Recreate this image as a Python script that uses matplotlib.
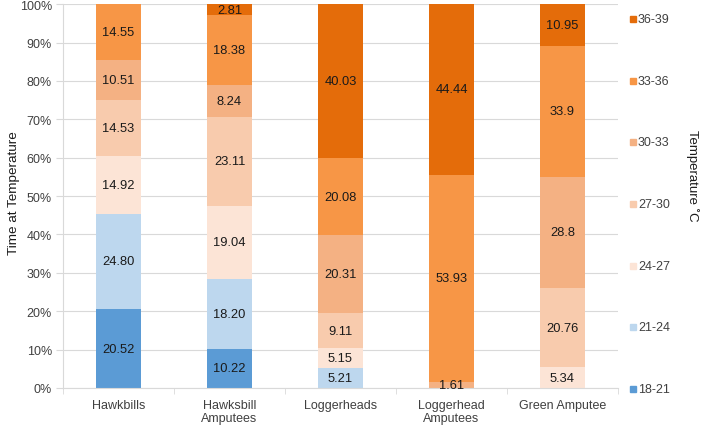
import matplotlib
matplotlib.use("Agg")
import matplotlib.pyplot as plt
from matplotlib.patches import Rectangle
import numpy as np

plt.rcParams["font.family"] = ["Liberation Sans", "DejaVu Sans"]

categories = ["Hawkbills", "Hawksbill\nAmputees", "Loggerheads", "Loggerhead\nAmputees", "Green Amputee"]
ranges = ["18-21", "21-24", "24-27", "27-30", "30-33", "33-36", "36-39"]

# values per temperature range (strings keep the printed label format)
t18_21 = ["20.52", "10.22", "", "", ""]
t21_24 = ["24.80", "18.20", "5.21", "", ""]
t24_27 = ["14.92", "19.04", "5.15", "", "5.34"]
t27_30 = ["14.53", "23.11", "9.11", "", "20.76"]
t30_33 = ["10.51", "8.24", "20.31", "1.61", "28.8"]
t33_36 = ["14.55", "18.38", "20.08", "53.93", "33.9"]
t36_39 = ["", "2.81", "40.03", "44.44", "10.95"]
series = [t18_21, t21_24, t24_27, t27_30, t30_33, t33_36, t36_39]

colors = ["#5B9BD5", "#BDD7EE", "#FCE4D6", "#F8CBAD", "#F4B183", "#F79646", "#E46C0A"]

vals = np.array([[float(s) if s else 0.0 for s in row] for row in series])
totals = vals.sum(axis=0)
pct = vals / totals * 100

fig = plt.figure(figsize=(7.01, 4.27), dpi=100)
ax = fig.add_axes([0.0899, 0.089, 0.7917, 0.899])

x = np.arange(len(categories))
bottom = np.zeros(len(categories))
for i, row in enumerate(series):
    ax.bar(x, pct[i], 0.4, bottom=bottom, color=colors[i], edgecolor="none", zorder=2)
    for j, s in enumerate(row):
        if s:
            ax.text(x[j], bottom[j] + pct[i][j] / 2, s, ha="center", va="center",
                    fontsize=9.3, color="#1a1a1a", zorder=3)
    bottom += pct[i]

ax.set_xlim(-0.5, 4.5)
ax.set_ylim(0, 100)
ax.set_yticks(np.arange(0, 101, 10))
ax.set_yticklabels([f"{v}%" for v in range(0, 101, 10)], fontsize=9, color="#404040")
ax.set_xticks(x)
ax.set_xticklabels(categories, fontsize=9, color="#404040", linespacing=1.15)
ax.set_xticks(np.arange(-0.5, 5, 1), minor=True)
ax.tick_params(axis="x", which="major", length=0, pad=8)
ax.tick_params(axis="x", which="minor", length=4, color="#D9D9D9")
ax.tick_params(axis="y", length=5, color="#D9D9D9", pad=3)
ax.grid(axis="y", color="#D9D9D9", linewidth=0.8, zorder=0)
ax.set_axisbelow(True)
for side in ["top", "right"]:
    ax.spines[side].set_visible(False)
ax.spines["left"].set_color("#D9D9D9")
ax.spines["bottom"].set_color("#D9D9D9")
fig.text(14 / 701, 1 - 193 / 427, "Time at Temperature", rotation=90, ha="center", va="center",
         fontsize=9.7, color="#1a1a1a")

# legend on the right, top to bottom 36-39 ... 18-21
ys = np.linspace(1 - 20 / 427, 1 - 390 / 427, 7)
for k, (lab, col) in enumerate(zip(ranges[::-1], colors[::-1])):
    yk = ys[k]
    fig.add_artist(Rectangle((630 / 701, yk - 3 / 427), 6 / 701, 6 / 427,
                             transform=fig.transFigure, color=col))
    fig.text(638 / 701, yk, lab, ha="left", va="center", fontsize=9, color="#404040")
fig.text(692 / 701, 1 - 176 / 427, "Temperature ˚C", rotation=270, ha="center", va="center",
         fontsize=9.5, color="#1a1a1a")

fig.savefig("out.png", dpi=100)
